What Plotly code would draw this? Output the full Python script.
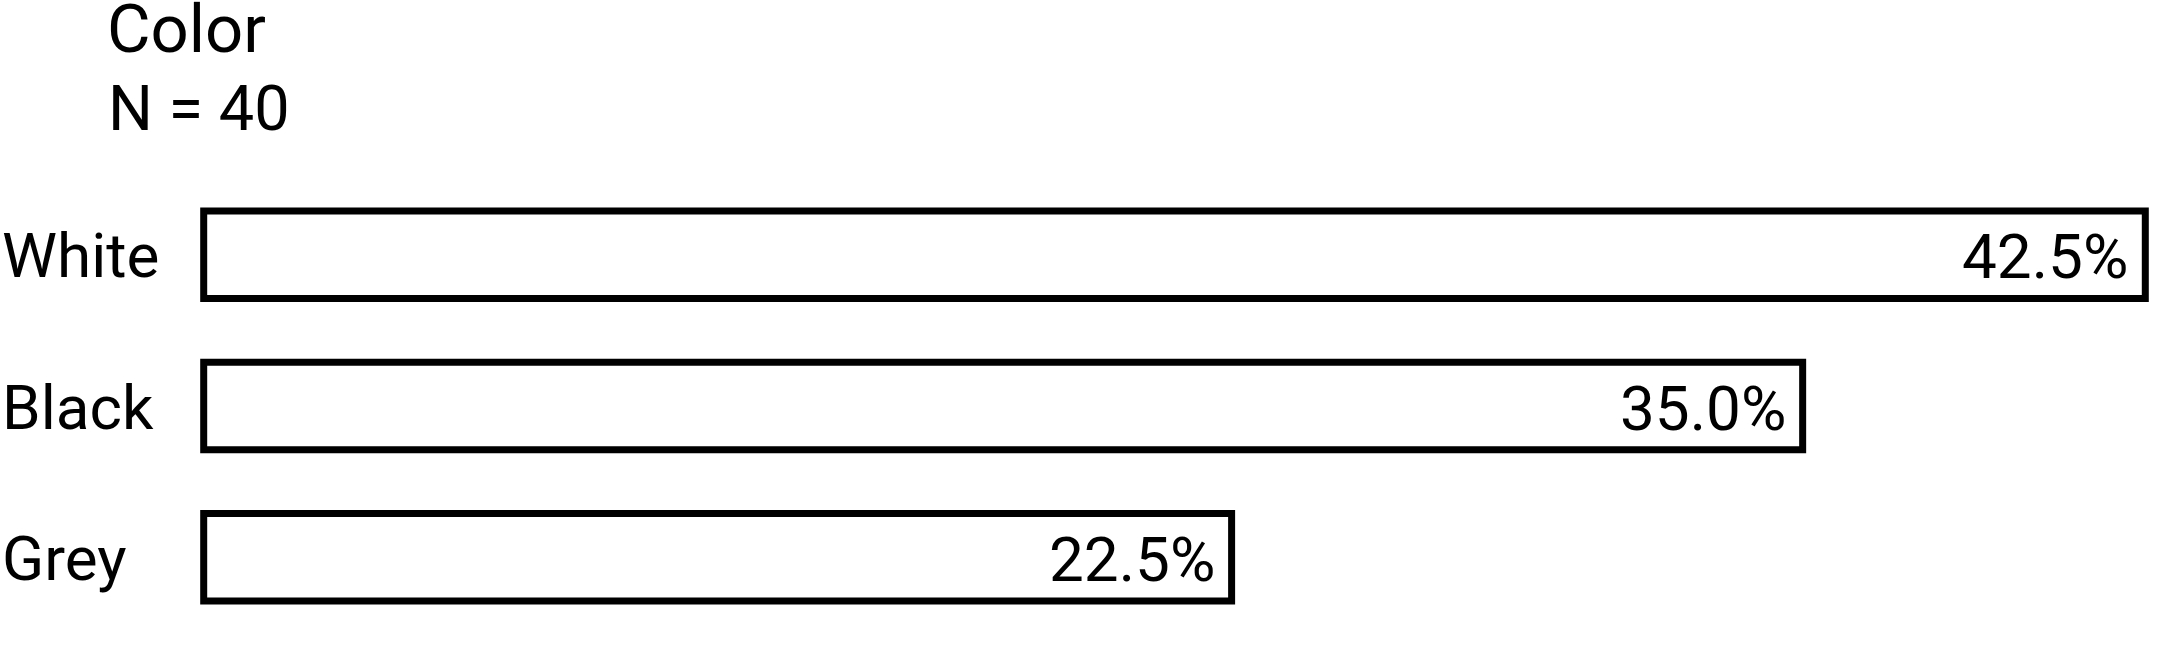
import plotly.graph_objects as go

categories = ["White", "Black", "Grey"]
percent_values = [42.5, 35.0, 22.5]
title_text = "Color"
subtitle_text = "N = 40"

W, H = 2160, 660
ML, MR, MT, MB = 190, 2, 178.5, 27
plot_w = W - ML - MR
plot_h = H - MT - MB
x0_px, x1_px = 203.7, 2145.3
px_per_unit = (x1_px - x0_px) / max(percent_values)
x_min = -(x0_px - ML) / px_per_unit
x_max = x_min + plot_w / px_per_unit

FONT = "Roboto"

fig = go.Figure()
fig.add_trace(go.Bar(
    x=percent_values,
    y=categories,
    orientation="h",
    width=0.578,
    marker=dict(color="white", line=dict(color="black", width=7)),
    hoverinfo="skip",
    showlegend=False,
))

annotations = []
for cat, val in zip(categories, percent_values):
    annotations.append(dict(
        x=(0 - ML) / plot_w, xref="paper", y=cat, yref="y",
        text=cat, showarrow=False, xanchor="left", yanchor="middle",
        yshift=-1,
        font=dict(family=FONT, size=62, color="black"),
    ))
    annotations.append(dict(
        x=val, xref="x", y=cat, yref="y",
        text=f"{val:.1f}%", showarrow=False, xanchor="right", yanchor="middle",
        xshift=-15, yshift=-2,
        font=dict(family=FONT, size=62, color="black"),
    ))

annotations.append(dict(
    x=(105 - ML) / plot_w, xref="paper",
    y=(H - MB - 28.5) / plot_h, yref="paper",
    text=title_text, showarrow=False, xanchor="left", yanchor="middle",
    font=dict(family=FONT, size=67, color="black"),
))
annotations.append(dict(
    x=(106 - ML) / plot_w, xref="paper",
    y=(H - MB - 108) / plot_h, yref="paper",
    text=subtitle_text, showarrow=False, xanchor="left", yanchor="middle",
    font=dict(family=FONT, size=63, color="black"),
))

fig.update_layout(
    width=W, height=H,
    margin=dict(l=ML, r=MR, t=MT, b=MB, pad=0),
    paper_bgcolor="white", plot_bgcolor="white",
    font=dict(family=FONT, color="black"),
    xaxis=dict(range=[x_min, x_max], visible=False, showgrid=False, zeroline=False, fixedrange=True),
    yaxis=dict(type="category", categoryorder="array", categoryarray=categories,
               range=[2.5, -0.5], visible=False, showgrid=False, zeroline=False, fixedrange=True),
    annotations=annotations,
)

fig.write_html("out.html", config={"displayModeBar": False},
               post_script="document.body.style.margin='0';document.body.style.overflow='hidden';")
